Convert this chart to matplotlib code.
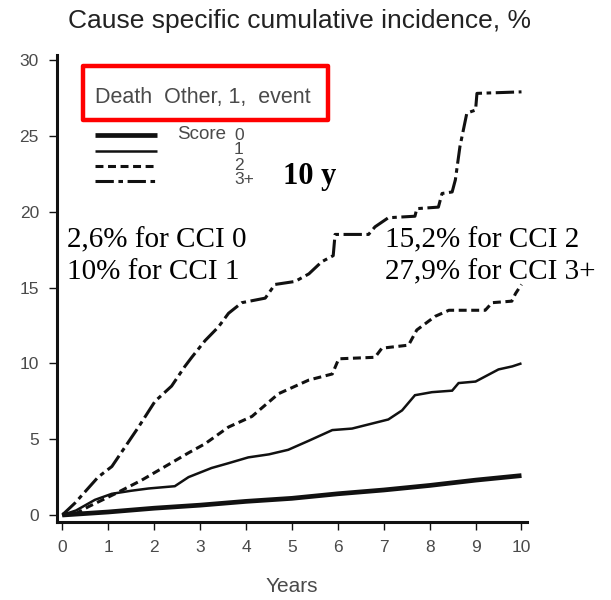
import matplotlib.pyplot as plt
from matplotlib.lines import Line2D
from matplotlib.patches import Rectangle

# Cumulative incidence of death from other causes by comorbidity score
years_0 = [0, 1, 2, 3, 4, 5, 6, 7, 8, 9, 10]
cci_0 = [0, 0.2, 0.45, 0.65, 0.9, 1.1, 1.4, 1.65, 1.95, 2.3, 2.6]

years_1 = [0, 0.3, 0.71, 1.08, 1.5, 1.88, 2.45, 2.75, 3.25, 3.6, 4.05, 4.5,
           4.92, 5.37, 5.88, 6.31, 7.1, 7.4, 7.68, 8.05, 8.49, 8.63, 9.0,
           9.5, 9.8, 10.0]
cci_1 = [0, 0.3, 1.0, 1.4, 1.6, 1.75, 1.9, 2.5, 3.1, 3.4, 3.8, 4.0,
         4.3, 4.9, 5.6, 5.7, 6.3, 6.9, 7.9, 8.1, 8.2, 8.7, 8.8,
         9.6, 9.8, 10.0]

years_2 = [0, 0.3, 0.57, 1.15, 1.73, 2.24, 2.75, 3.11, 3.62, 4.13, 4.71,
           5.37, 5.88, 6.02, 6.81, 6.96, 7.54, 7.72, 8.12, 8.42, 9.21, 9.36,
           9.79, 9.87, 10.0]
cci_2 = [0, 0.1, 0.55, 1.4, 2.3, 3.2, 4.1, 4.7, 5.8, 6.5, 8.0,
         8.9, 9.3, 10.3, 10.4, 11.0, 11.2, 12.2, 13.1, 13.5, 13.5, 14.0,
         14.1, 14.6, 15.2]

years_3 = [0, 0.28, 0.78, 1.08, 1.37, 1.66, 2.02, 2.38, 2.67, 2.82, 3.11,
           3.4, 3.62, 3.91, 4.42, 4.63, 5.07, 5.37, 5.65, 5.9, 5.94, 6.67,
           6.81, 7.1, 7.68, 7.72, 8.19, 8.27, 8.49, 8.56, 8.66, 8.81, 9.0,
           9.03, 10.0]
cci_3 = [0, 0.8, 2.5, 3.2, 4.5, 5.8, 7.5, 8.5, 9.8, 10.4, 11.5,
         12.4, 13.3, 14.0, 14.3, 15.2, 15.4, 15.9, 16.7, 17.1, 18.5, 18.5,
         19.0, 19.6, 19.7, 20.2, 20.3, 21.2, 21.3, 22.1, 24.3, 26.5, 26.7,
         27.8, 27.9]

x_ticks = list(range(0, 11))
y_ticks = [0, 5, 10, 15, 20, 25, 30]
score_labels = ["0", "1", "2", "3+"]

styles = [
    dict(lw=3.4, ls="-"),
    dict(lw=1.8, ls="-"),
    dict(lw=2.2, ls=(0, (2.6, 1.5))),
    dict(lw=2.2, ls=(0, (6.0, 1.5, 1.5, 1.5))),
]

grey = "#4a4a4a"

fig = plt.figure(figsize=(6.11, 6.0), dpi=100)
ax = fig.add_axes([57 / 611, 78 / 600, 470 / 611, 467 / 600])

series = [(years_0, cci_0), (years_1, cci_1), (years_2, cci_2), (years_3, cci_3)]
for (xs, ys), st in zip(series, styles):
    ax.plot(xs, ys, color="#111111", linewidth=st["lw"], linestyle=st["ls"],
            solid_capstyle="butt", solid_joinstyle="miter")

ax.set_xlim(-0.115, 10.12)
ax.set_ylim(-0.46, 30.33)
ax.set_xticks(x_ticks)
ax.set_yticks(y_ticks)
ax.spines["top"].set_visible(False)
ax.spines["right"].set_visible(False)
for side in ("left", "bottom"):
    ax.spines[side].set_linewidth(2.2)
    ax.spines[side].set_color("#111111")
ax.tick_params(axis="both", length=6, width=1.0, color="#111111",
               labelsize=12.5, labelcolor=grey, pad=7)
for lab in ax.get_xticklabels() + ax.get_yticklabels():
    lab.set_family("Liberation Sans")

ax.set_xlabel("Years", fontsize=15, color=grey, family="Liberation Sans",
              labelpad=16)
fig.text(0.49, 0.965, "Cause specific cumulative incidence, %", ha="center",
         va="center", fontsize=19, color="#222222", family="Liberation Sans")

# red framed header of the key
fig.patches.append(Rectangle((83 / 611, 1 - 120 / 600), 245 / 611, 54 / 600,
                             transform=fig.transFigure, fill=False,
                             edgecolor="#ff0000", linewidth=3.2,
                             joinstyle="round"))
fig.text(95 / 611, 1 - 97 / 600, "Death  Other, 1,  event", fontsize=15.5,
         color=grey, family="Liberation Sans", va="center")

# line samples of the key
key_y = [135, 150.5, 166, 181]
for yy, st in zip(key_y, styles):
    fig.add_artist(Line2D([95 / 611, 157 / 611], [1 - yy / 600] * 2,
                          transform=fig.transFigure, color="#111111",
                          linewidth=st["lw"], linestyle=st["ls"],
                          solid_capstyle="butt"))
fig.text(177 / 611, 1 - 134 / 600, "Score", fontsize=13.5, color=grey,
         family="Liberation Sans", va="center")
# score digits sit in a tight column, as in the original key
for i, lab in enumerate(score_labels):
    fig.text(234 / 611, 1 - (135 + 15 * i) / 600, lab, fontsize=12.5,
             color=grey, family="Liberation Sans", va="center")

fig.text(283 / 611, 1 - 177 / 600, "10 y", fontsize=22, fontweight="bold",
         family="Liberation Serif", va="center")

serif = dict(fontsize=21, family="Liberation Serif", va="center")
fig.text(67 / 611, 1 - 240 / 600, "2,6% for CCI 0", **serif)
fig.text(67 / 611, 1 - 272 / 600, "10% for CCI 1", **serif)
fig.text(385 / 611, 1 - 240 / 600, "15,2% for CCI 2", **serif)
fig.text(385 / 611, 1 - 272 / 600, "27,9% for CCI 3+", **serif)

fig.savefig("out.png", dpi=100)
